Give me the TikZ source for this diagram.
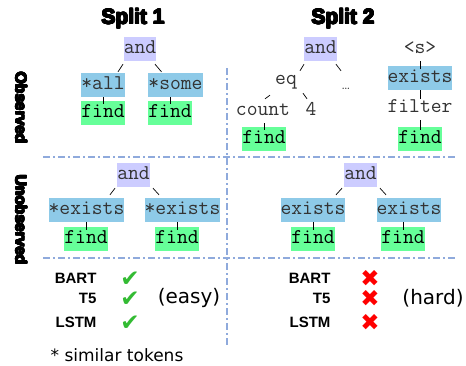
\documentclass[tikz,border=0pt]{standalone}
\usepackage{fontspec}
\usepackage[copies]{contour}
\usepackage{tikz}

\newfontfamily\heavyfont{Liberation Sans Bold}
\newfontfamily\modelfont{Liberation Sans Bold}
\newfontfamily\dejavu{DejaVu Sans}
\contourlength{0.6pt}
\contournumber{16}

\definecolor{andcol}{HTML}{CCCCFF}
\definecolor{opcol}{HTML}{8ECAE8}
\definecolor{findcol}{HTML}{66FF99}
\definecolor{splitcol}{HTML}{8FAADC}
\definecolor{okcol}{HTML}{33BB33}

\tikzset{
  tok/.style={inner xsep=0pt, inner ysep=2.5pt, text height=14pt, text depth=5pt,
    font=\fontsize{21}{24}\selectfont\ttfamily, text=black!80},
  andbox/.style={tok, fill=andcol},
  opbox/.style={tok, fill=opcol},
  findbox/.style={tok, fill=findcol, text=black},
  edge/.style={line width=0.7pt},
  divider/.style={splitcol, line width=1.2pt, dash pattern=on 7pt off 3pt on 2pt off 3pt},
  heading/.style={font=\heavyfont\fontsize{21}{24}\selectfont},
  rowlabel/.style={font=\heavyfont\fontsize{15.5}{18}\selectfont, rotate=-90},
  model/.style={anchor=east, font=\modelfont\fontsize{15}{18}\selectfont},
  verdict/.style={inner sep=0pt, text height=9pt, text depth=0pt, font=\dejavu\fontsize{23}{26}\selectfont},
  ok/.style={verdict, text=okcol},
  bad/.style={verdict, text=red},
}

\begin{document}
\begin{tikzpicture}[x=1pt,y=-1pt]
\useasboundingbox (0,0) rectangle (466,365);

% headings
\node[heading] (title1) at (133,19) {\contour{black}{Split 1}};
\node[heading] (title2) at (343,19) {\contour{black}{Split 2}};
\node[rowlabel] (obs) at (21,108) {\contour{black}{Observed}};
\node[rowlabel] (unobs) at (21,220) {\contour{black}{Unobserved}};

% dividers
\draw[divider] (227,68) -- (227,345);
\draw[divider] (43,157) -- (456,157);
\draw[divider] (43,258) -- (456,258);

% observed, split 1
\node[andbox] (and1) at (140,49) {and};
\node[opbox] (all1) at (103,85) {*all};
\node[opbox] (some1) at (175.5,85) {*some};
\node[findbox] (fall1) at (103,113) {find};
\node[findbox] (fsome1) at (170,113) {find};
\draw[edge] ([xshift=-17,yshift=-3]and1.south) -- ([xshift=15,yshift=1]all1.north);
\draw[edge] ([xshift=15,yshift=-3]and1.south) -- ([xshift=-14,yshift=1]some1.north);
\draw[edge] (all1.south) -- ([yshift=-3]fall1.north);
\draw[edge] (fsome1.north |- some1.south) -- ([yshift=-3]fsome1.north);

% observed, split 2
\node[andbox] (and2) at (320.5,49) {and};
\node[tok] (eq2) at (286,80) {eq};
\node[tok, font=\fontsize{14}{16}\selectfont\rmfamily] (dots2) at (346,85) {\ldots};
\node[tok] (count2) at (263,111) {count};
\node[tok] (four2) at (311,111) {4};
\node[findbox] (fcount2) at (264,139) {find};
\node[tok] (s2) at (420,49) {<s>};
\node[opbox] (ex2) at (420,78) {exists};
\node[tok] (filter2) at (420,108) {filter};
\node[findbox] (ffilter2) at (420,139) {find};
\draw[edge] ([xshift=-16.5,yshift=-3]and2.south) -- ([xshift=14,yshift=-3]eq2.north);
\draw[edge] ([xshift=15.5,yshift=-3]and2.south) -- ([xshift=-5,yshift=2]dots2.north);
\draw[edge] ([xshift=-16,yshift=-3]eq2.south) -- ([xshift=2]count2.north);
\draw[edge] ([xshift=17,yshift=-1]eq2.south) -- ([xshift=-4]four2.north);
\draw[edge] (fcount2.north |- count2.south) -- ([yshift=-3]fcount2.north);
\draw[edge] (s2.south) -- ([yshift=-3]ex2.north);
\draw[edge] (ex2.south) -- ([yshift=-3]filter2.north);
\draw[edge] (filter2.south) -- ([yshift=-3]ffilter2.north);

% unobserved, split 1
\node[andbox] (and3) at (133.5,175) {and};
\node[opbox] (ex3a) at (86.5,210) {*exists};
\node[opbox] (ex3b) at (182.5,210) {*exists};
\node[findbox] (f3a) at (86,239) {find};
\node[findbox] (f3b) at (177,239) {find};
\draw[edge] ([xshift=-18.5,yshift=-1]and3.south) -- ([xshift=23.5,yshift=3]ex3a.north);
\draw[edge] ([xshift=19.5,yshift=-1]and3.south) -- ([xshift=-23.5,yshift=3]ex3b.north);
\draw[edge] (f3a.north |- ex3a.south) -- ([yshift=-3]f3a.north);
\draw[edge] (f3b.north |- ex3b.south) -- ([yshift=-3]f3b.north);

% unobserved, split 2
\node[andbox] (and4) at (360.5,175) {and};
\node[opbox] (ex4a) at (313,210) {exists};
\node[opbox] (ex4b) at (409,210) {exists};
\node[findbox] (f4a) at (313,239) {find};
\node[findbox] (f4b) at (403,239) {find};
\draw[edge] ([xshift=-18.5,yshift=-1]and4.south) -- ([xshift=23,yshift=3]ex4a.north);
\draw[edge] ([xshift=19.5,yshift=-1]and4.south) -- ([xshift=-23,yshift=3]ex4b.north);
\draw[edge] (f4a.north |- ex4a.south) -- ([yshift=-3]f4a.north);
\draw[edge] (f4b.north |- ex4b.south) -- ([yshift=-3]f4b.north);

% results
\node[model] (bart1) at (100,278) {BART};
\node[model] (t5a) at (100,298) {T5};
\node[model] (lstm1) at (100,322) {LSTM};
\node[ok] (ok1) at (130,282) {✔};
\node[ok] (ok2) at (130,302) {✔};
\node[ok] (ok3) at (130,326) {✔};
\node[font=\dejavu\fontsize{20}{24}\selectfont] (easy) at (189,298) {(easy)};

\node[model] (bart2) at (334,278) {BART};
\node[model] (t5b) at (334,298) {T5};
\node[model] (lstm2) at (334,322) {LSTM};
\node[bad] (bad1) at (370,282) {✖};
\node[bad] (bad2) at (370,302) {✖};
\node[bad] (bad3) at (370,326) {✖};
\node[font=\dejavu\fontsize{20}{24}\selectfont] (hard) at (433,298) {(hard)};

\node[font=\dejavu\fontsize{17}{20}\selectfont] (note) at (117,355) {* similar tokens};
\end{tikzpicture}
\end{document}
